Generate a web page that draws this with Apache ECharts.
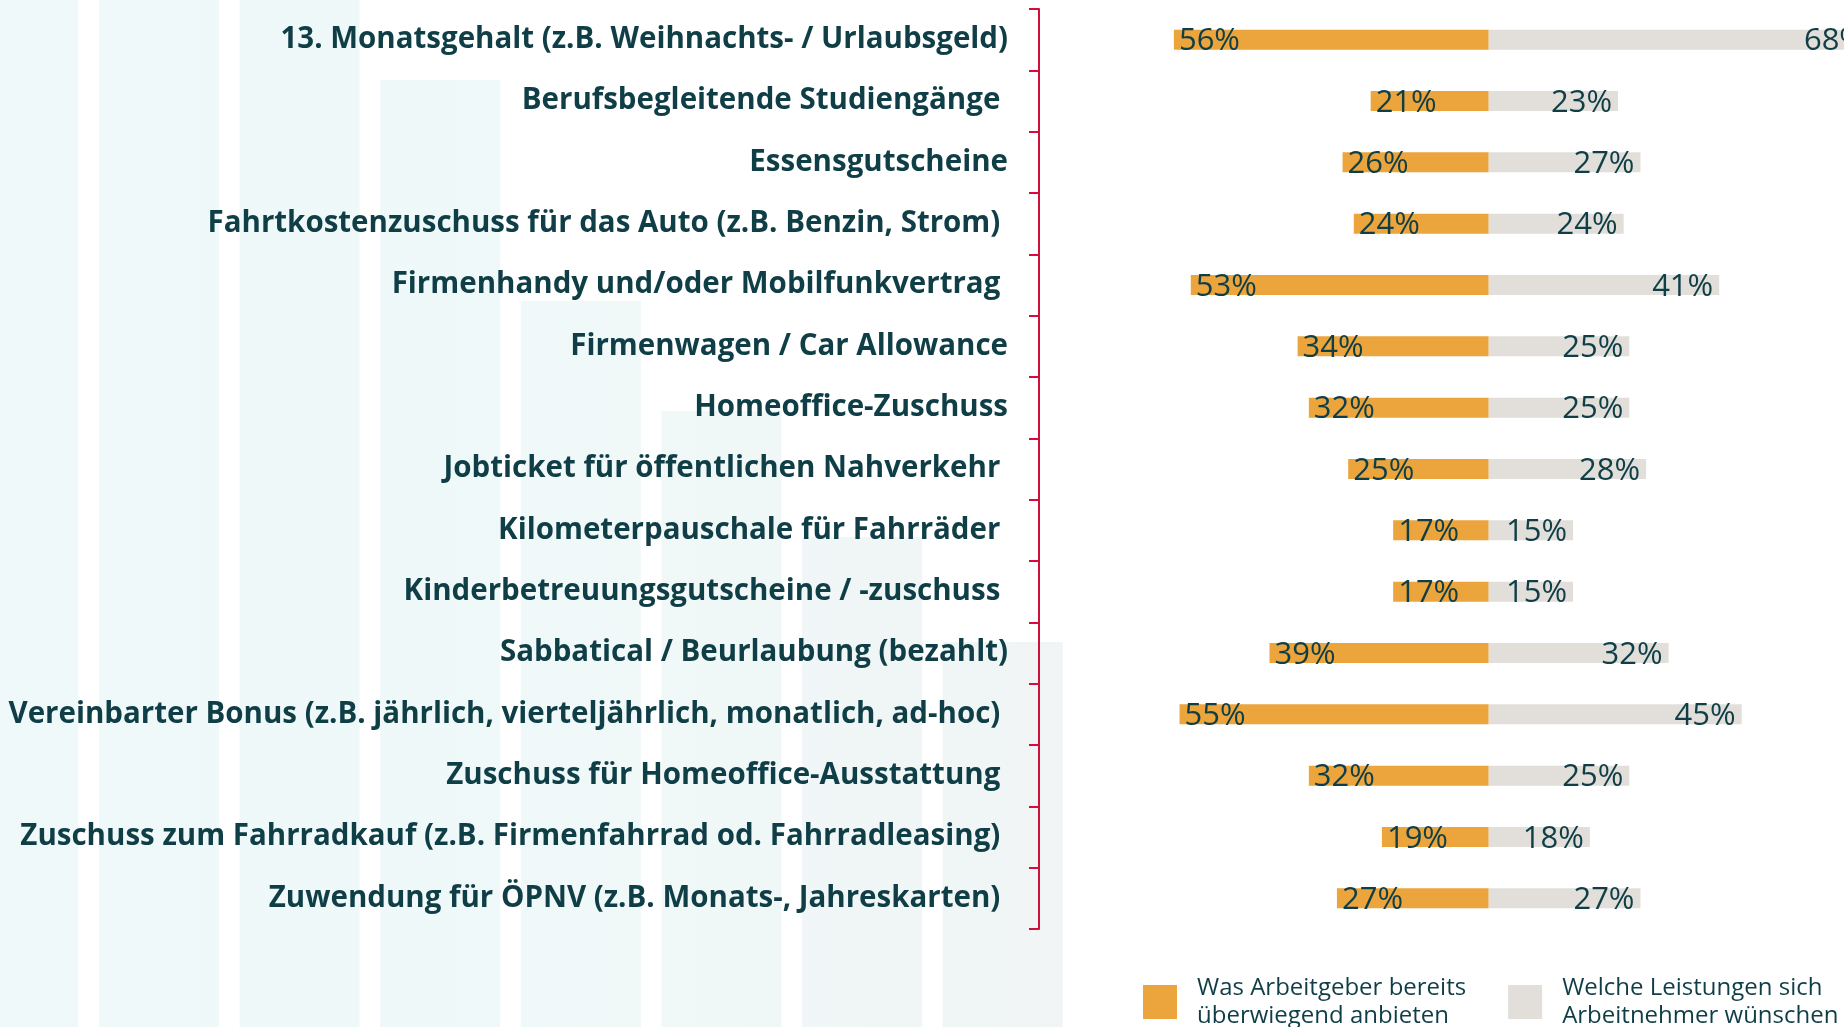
<!DOCTYPE html>
<html>
<head>
<meta charset="utf-8">
<script src="https://cdn.jsdelivr.net/npm/echarts@6/dist/echarts.min.js"></script>
<style>
html, body { margin: 0; padding: 0; background: #ffffff; }
#chart { width: 1844px; height: 1027px; }
</style>
</head>
<body>
<div id="chart"></div>
<script>
// Kategorien (Reihenfolge von oben nach unten)
var categories = [
	'13. Monatsgehalt (z.B. Weihnachts- / Urlaubsgeld)',
	'Berufsbegleitende Studiengänge ',
	'Essensgutscheine',
	'Fahrtkostenzuschuss für das Auto (z.B. Benzin, Strom) ',
	'Firmenhandy und/oder Mobilfunkvertrag ',
	'Firmenwagen / Car Allowance',
	'Homeoffice-Zuschuss',
	'Jobticket für öffentlichen Nahverkehr ',
	'Kilometerpauschale für Fahrräder ',
	'Kinderbetreuungsgutscheine / -zuschuss ',
	'Sabbatical / Beurlaubung (bezahlt)',
	'Vereinbarter Bonus (z.B. jährlich, vierteljährlich, monatlich, ad-hoc) ',
	'Zuschuss für Homeoffice-Ausstattung ',
	'Zuschuss zum Fahrradkauf (z.B. Firmenfahrrad od. Fahrradleasing) ',
	'Zuwendung für ÖPNV (z.B. Monats-, Jahreskarten) '
];
// Was Arbeitgeber bereits überwiegend anbieten (%)
var angebot = [56, 21, 26, 24, 53, 34, 32, 25, 17, 17, 39, 55, 32, 19, 27];
// Welche Leistungen sich Arbeitnehmer wünschen (%)
var wunsch = [68, 23, 27, 24, 41, 25, 25, 28, 15, 15, 32, 45, 25, 18, 27];

var seriesNames = [
	'Was Arbeitgeber bereits\nüberwiegend anbieten',
	'Welche Leistungen sich\nArbeitnehmer wünschen'
];

// dekorative Hintergrundstreifen (Höhe von unten)
var bgCats = ['a', 'b', 'c', 'd', 'e', 'f', 'g', 'h'];
var bgLevels = [1027, 1027, 1027, 947, 726, 616, 490, 385];

var textColor = '#0f3e47';
var axisRed = '#d0103a';

var myChart = echarts.init(document.getElementById('chart'));

var option = {
	animation: false,
	color: ['#eba53c', '#e2dfda'],
	legend: {
		left: 1138,
		top: 969,
		width: 900,
		itemWidth: 34,
		itemHeight: 34,
		itemGap: 42,
		icon: 'rect',
		data: seriesNames,
		textStyle: {
			color: textColor,
			fontFamily: 'Open Sans',
			fontSize: 24,
			lineHeight: 28,
			padding: [0, 0, 0, 15]
		}
	},
	grid: [{
		left: 1039,
		right: 0,
		top: 9,
		bottom: 98,
		outerBoundsMode: 'none'
	}, {
		left: -52,
		width: 1125,
		top: 0,
		bottom: 0,
		outerBoundsMode: 'none'
	}],
	xAxis: [{
		type: 'value',
		gridIndex: 0,
		min: -80,
		max: 63.2,
		show: false
	}, {
		type: 'category',
		gridIndex: 1,
		data: bgCats,
		show: false
	}],
	yAxis: [{
		type: 'category',
		gridIndex: 0,
		inverse: true,
		data: categories,
		z: 5,
		axisLine: {
			show: true,
			onZero: false,
			lineStyle: { color: axisRed, width: 2 }
		},
		axisTick: {
			show: true,
			length: 10,
			lineStyle: { color: axisRed, width: 2 }
		},
		axisLabel: {
			margin: 31,
			color: textColor,
			fontFamily: 'Open Sans',
			fontWeight: 'bold',
			fontSize: 29.5
		},
		splitLine: { show: false }
	}, {
		type: 'value',
		gridIndex: 1,
		min: 0,
		max: 1027,
		show: false
	}],
	series: [{
		type: 'bar',
		xAxisIndex: 1,
		yAxisIndex: 1,
		data: bgLevels,
		barWidth: 120,
		silent: true,
		z: -1,
		itemStyle: {
			color: {
				type: 'linear', x: 0, y: 0, x2: 1100, y2: 0, global: true,
				colorStops: [
					{ offset: 0, color: '#eff9fa' },
					{ offset: 0.6, color: '#f0f8f8' },
					{ offset: 1, color: '#f0f4f5' }
				]
			}
		}
	}, {
		name: seriesNames[0],
		type: 'bar',
		stack: 'total',
		barWidth: 20,
		data: angebot.map(function (v) { return -v; }),
		label: {
			show: true,
			position: 'insideLeft',
			distance: 5,
			offset: [0, 2],
			color: textColor,
			fontFamily: 'Open Sans',
			fontSize: 31,
			formatter: function (p) { return Math.abs(p.value) + '%'; }
		}
	}, {
		name: seriesNames[1],
		type: 'bar',
		stack: 'total',
		barWidth: 20,
		clip: false,
		data: wunsch,
		label: {
			show: true,
			position: 'insideRight',
			distance: 6,
			offset: [0, 2],
			color: textColor,
			fontFamily: 'Open Sans',
			fontSize: 31,
			formatter: '{c}%'
		}
	}]
};
myChart.setOption(option, true);
</script>
</body>
</html>
